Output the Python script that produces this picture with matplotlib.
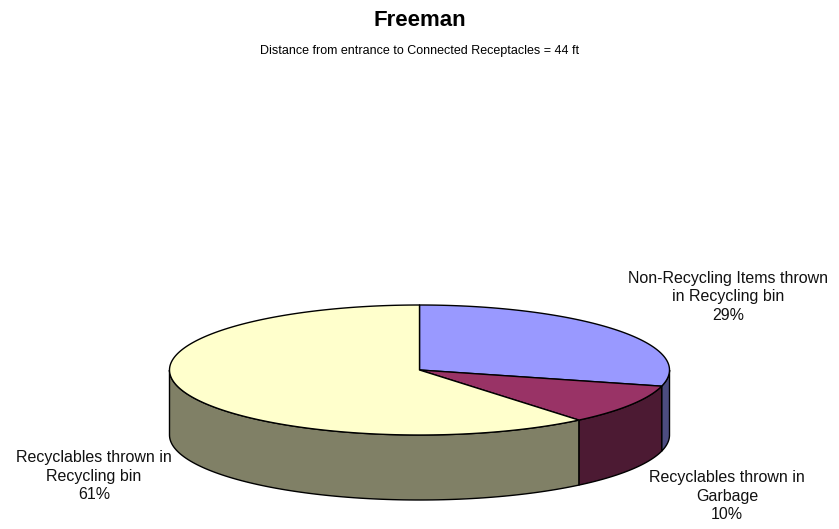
import numpy as np
import matplotlib.pyplot as plt
from matplotlib.patches import Polygon

plt.rcParams['font.family'] = ['Liberation Sans', 'DejaVu Sans']

# slice data, clockwise from 12 o'clock
labels = ['Non-Recycling Items thrown\nin Recycling bin',
          'Recyclables thrown in\nGarbage',
          'Recyclables thrown in\nRecycling bin']
shares = [29, 10, 61]
top_colors = ['#9999FF', '#993366', '#FFFFCC']
side_colors = ['#4C4C80', '#4C1A33', '#808066']
label_pos = [(728, 297), (727, 496), (94, 476)]

W, H = 839, 529
cx, cy = 419.5, 370.0   # centre of top face (pixels)
a, b = 250.0, 65.0      # ellipse half axes
depth = 65.0            # thickness of the pie


def pt(theta, dy=0.0):
    t = np.radians(theta)
    return cx + a * np.cos(t), cy - b * np.sin(t) + dy


fig = plt.figure(figsize=(W / 100, H / 100), dpi=100)
ax = fig.add_axes([0, 0, 1, 1])
ax.set_xlim(0, W)
ax.set_ylim(H, 0)
ax.axis('off')

# wedge angles (degrees, math convention, going clockwise)
bounds = [90.0]
for s in shares:
    bounds.append(bounds[-1] - s / sum(shares) * 360.0)

# side walls: only the front half (-180..0) is visible
for i in range(len(shares)):
    t1, t2 = bounds[i], bounds[i + 1]
    lo, hi = max(min(t1, 0.0), -180.0), max(min(t2, 0.0), -180.0)
    if abs(lo - hi) < 1e-6:
        continue
    th = np.linspace(lo, hi, 100)
    topx, topy = pt(th)
    botx, boty = pt(th[::-1], depth)
    xy = np.column_stack([np.r_[topx, botx], np.r_[topy, boty]])
    ax.add_patch(Polygon(xy, closed=True, facecolor=side_colors[i],
                         edgecolor='black', lw=1.0, zorder=1))

# top faces
for i in range(len(shares)):
    th = np.linspace(bounds[i], bounds[i + 1], 200)
    x, y = pt(th)
    xy = np.column_stack([np.r_[cx, x], np.r_[cy, y]])
    ax.add_patch(Polygon(xy, closed=True, facecolor=top_colors[i],
                         edgecolor='black', lw=1.0, zorder=2,
                         joinstyle='round'))

for lab, s, (x, y) in zip(labels, shares, label_pos):
    ax.text(x, y, f'{lab}\n{s}%', ha='center', va='center',
            fontsize=11.5, linespacing=1.3, color='#111111', zorder=3)

ax.text(W / 2, 20, 'Freeman', ha='center', va='center',
        fontsize=16, fontweight='bold')
ax.text(W / 2, 51, 'Distance from entrance to Connected Receptacles = 44 ft',
        ha='center', va='center', fontsize=9)

fig.savefig('out.png', dpi=100)
